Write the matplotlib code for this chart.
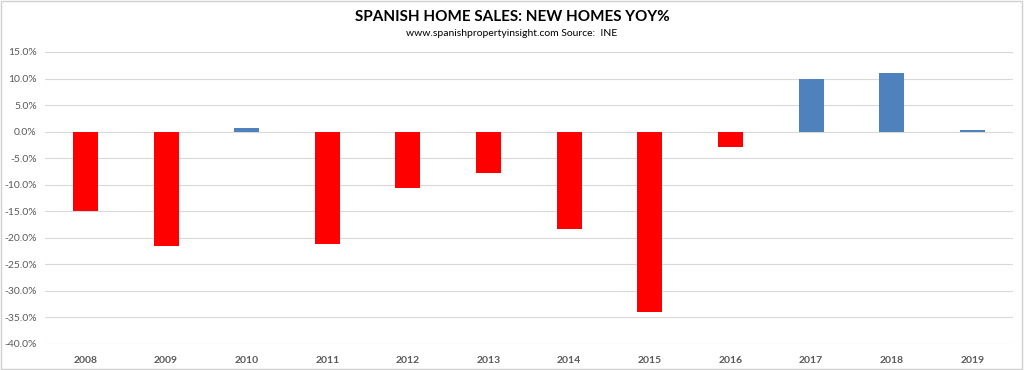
import matplotlib.pyplot as plt
import matplotlib.patches as mpatches
import numpy as np

anios = ["2008", "2009", "2010", "2011", "2012", "2013", "2014", "2015", "2016", "2017", "2018", "2019"]
valores = [-14.9, -21.5, 0.7, -21.1, -10.7, -7.8, -18.4, -34.0, -2.9, 10.0, 11.1, 0.3]
ticks_y = [15, 10, 5, 0, -5, -10, -15, -20, -25, -30, -35, -40]

plt.rcParams['font.family'] = ['Lato', 'DejaVu Sans']

fig = plt.figure(figsize=(10.24, 3.7), dpi=100)
ax = fig.add_axes([0.044, 0.0703, 0.945, 0.7892])

x = np.arange(len(anios))
colores = ['#4F81BD' if v > 0 else '#FF0000' for v in valores]
ax.bar(x, valores, width=0.31, color=colores, zorder=3)

ax.set_xlim(-0.5, len(anios) - 0.5)
ax.set_ylim(-40, 15)
ax.set_yticks(ticks_y)
ax.set_yticklabels([f"{t:.1f}%" for t in ticks_y], fontsize=7.5, color='#595959')
ax.set_xticks(x)
ax.set_xticklabels(anios, fontsize=7.5, color='#595959', fontweight='bold')
ax.tick_params(length=0, pad=6)
ax.tick_params(axis='x', pad=9)
ax.yaxis.grid(True, color='#D9D9D9', linewidth=0.8, zorder=0)
for s in ax.spines.values():
    s.set_visible(False)

fig.text(0.5, 0.955, "SPANISH HOME SALES: NEW HOMES YOY%", ha='center', va='center',
         fontsize=11, fontweight='bold', color='black')
fig.text(0.5, 0.91, "www.spanishpropertyinsight.com Source:  INE", ha='center', va='center',
         fontsize=7.5, color='black')

fig.patches.append(mpatches.Rectangle((0.001, 0.002), 0.997, 0.995, transform=fig.transFigure,
                                      fill=False, edgecolor='#D0D0D0', linewidth=1))

plt.savefig("out.png", dpi=100)
